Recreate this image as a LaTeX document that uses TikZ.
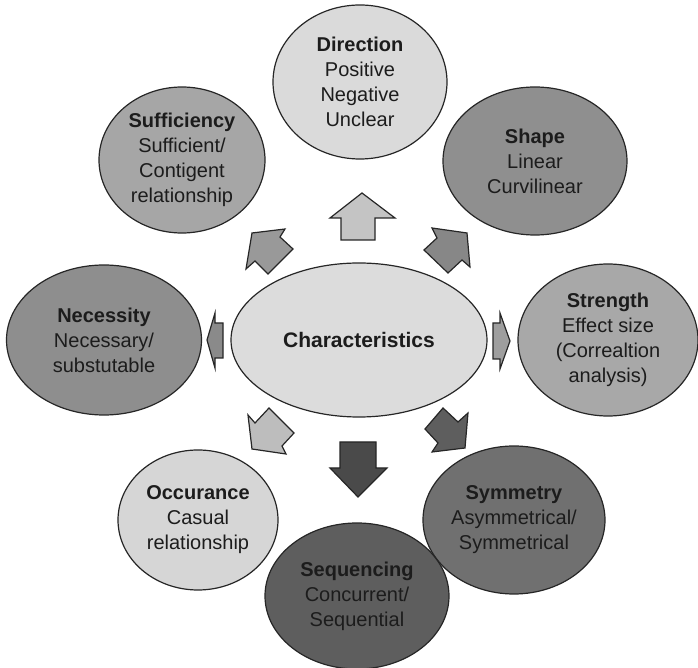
\documentclass[tikz,border=0pt]{standalone}
\usepackage{fontspec}
\setmainfont{Liberation Sans}
\usetikzlibrary{shapes.geometric}

\definecolor{txt}{HTML}{1C1C1C}
\definecolor{cCenter}{HTML}{DCDCDC}
\definecolor{cDirection}{HTML}{DADADA}
\definecolor{cShape}{HTML}{8F8F8F}
\definecolor{cStrength}{HTML}{A8A8A8}
\definecolor{cSymmetry}{HTML}{707070}
\definecolor{cSequencing}{HTML}{5E5E5E}
\definecolor{cOccurance}{HTML}{D6D6D6}
\definecolor{cNecessity}{HTML}{8E8E8E}
\definecolor{cSufficiency}{HTML}{A6A6A6}

\tikzset{
  % one drawing unit is half a point; bubble sizes use the same units
  bsize/.style 2 args={minimum width=#1*0.5pt, minimum height=#2*0.5pt},
  bubble/.style={ellipse, draw=black!85, line width=0.6pt, inner sep=0pt,
    text=txt, align=center,
    font=\fontsize{10}{12.5}\selectfont},
  blockarrow/.style={draw=black!85, line width=0.6pt, line join=miter},
}

\begin{document}
\begin{tikzpicture}[x=0.5pt, y=-0.5pt]
\useasboundingbox (0,0) rectangle (698,668);

% outer characteristic bubbles
\node[bubble, fill=cShape, bsize={184}{148}] (shape) at (535,161)
  {\textbf{Shape}\\Linear\\Curvilinear};
\node[bubble, fill=cDirection, bsize={174}{154}] (direction) at (360,82)
  {\textbf{Direction}\\Positive\\Negative\\Unclear};
\node[bubble, fill=cSufficiency, bsize={166}{146}] (sufficiency) at (182,160)
  {\textbf{Sufficiency}\\Sufficient/\\Contigent\\relationship};
\node[bubble, fill=cStrength, bsize={180}{152}] (strength) at (608,340)
  {\textbf{Strength}\\Effect size\\(Correaltion\\analysis)};
\node[bubble, fill=cNecessity, bsize={195}{150}] (necessity) at (104,340)
  {\textbf{Necessity}\\Necessary/\\substutable};
\node[bubble, fill=cOccurance, bsize={160}{140}] (occurance) at (198,520)
  {\textbf{Occurance}\\Casual\\relationship};
\node[bubble, fill=cSymmetry, bsize={182}{148}] (symmetry) at (514,520)
  {\textbf{Symmetry}\\Asymmetrical/\\Symmetrical};
\node[bubble, fill=cSequencing, bsize={184}{146}] (sequencing) at (357,596)
  {\textbf{Sequencing}\\Concurrent/\\Sequential};

% central bubble
\node[bubble, fill=cCenter, bsize={256}{154},
      font=\fontsize{10.5}{12.5}\selectfont\bfseries] (center) at (359,340)
  {Characteristics};

% block arrows around the centre
\filldraw[blockarrow, fill=black!23] % up
  (362,193) -- (395,218) -- (375,218) -- (375,240) -- (341,240) -- (341,218) -- (330,218) -- cycle;
\filldraw[blockarrow, fill=black!47] % up-right
  (467,233) -- (470,267) -- (462,260) -- (448,273) -- (424,250) -- (437,238) -- (432,228) -- cycle;
\filldraw[blockarrow, fill=black!38] % right
  (510,341) -- (500,369) -- (500,359) -- (493,359) -- (493,323) -- (500,323) -- (500,313) -- cycle;
\filldraw[blockarrow, fill=black!63] % down-right
  (465,448) -- (432,452) -- (438,443) -- (425,429) -- (443,408) -- (458,422) -- (468,413) -- cycle;
\filldraw[blockarrow, fill=black!71] % down
  (358,497) -- (330,468) -- (340,468) -- (340,442) -- (376,442) -- (376,468) -- (387,468) -- cycle;
\filldraw[blockarrow, fill=black!26] % down-left
  (252,449) -- (248,415) -- (255,423) -- (269,408) -- (294,433) -- (282,446) -- (286,454) -- cycle;
\filldraw[blockarrow, fill=black!46] % left
  (207,340) -- (215,313) -- (215,323) -- (223,323) -- (223,358) -- (215,358) -- (215,368) -- cycle;
\filldraw[blockarrow, fill=black!40] % up-left
  (252,233) -- (285,229) -- (280,237) -- (293,249) -- (268,274) -- (255,261) -- (246,269) -- cycle;
\end{tikzpicture}
\end{document}
